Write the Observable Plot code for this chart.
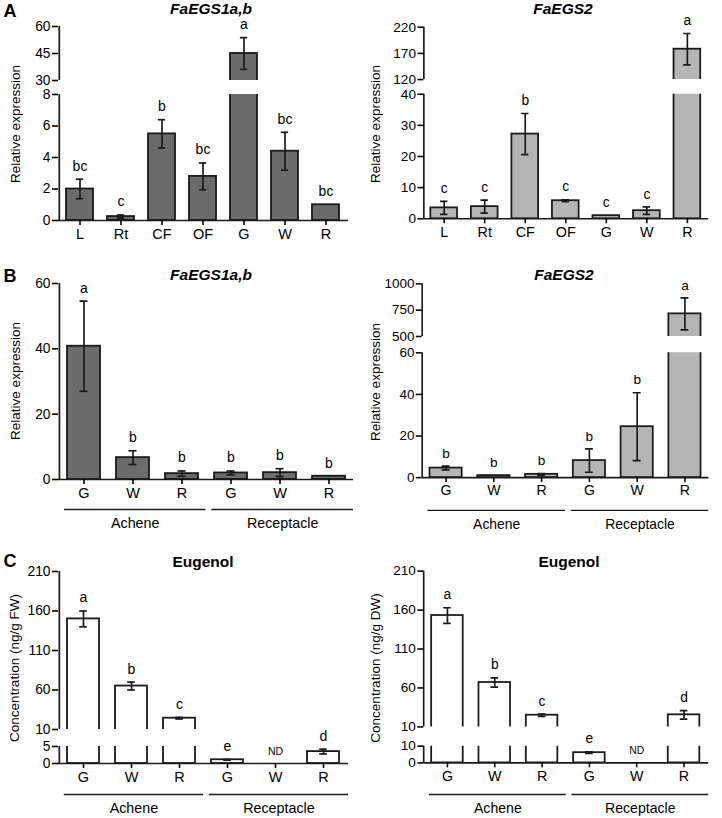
<!DOCTYPE html>
<html>
<head>
<meta charset="utf-8">
<script src="https://cdn.jsdelivr.net/npm/d3@7"></script>
<script src="https://cdn.jsdelivr.net/npm/@observablehq/plot@0.6"></script>
<style>
  html, body { margin: 0; padding: 0; background: #fff; }
  #root { position: relative; width: 722px; height: 818px; overflow: hidden; font-family: "Liberation Sans", Arial, Helvetica, sans-serif; color: #000; }
  .abs { position: absolute; white-space: nowrap; line-height: 1; }
  .seg svg { overflow: visible; }
</style>
</head>
<body>
<div id="root"></div>
<script>
// ---------------- data ----------------
const tissues = ["L", "Rt", "CF", "OF", "G", "W", "R"];
const stageKeys = ["A-G", "A-W", "A-R", "R-G", "R-W", "R-R"];
const stageLabels = ["G", "W", "R", "G", "W", "R"];
const groupNames = ["Achene", "Receptacle"];
const groupStart = [0, 3];
const groupEnd = [3, 6];

// A: tissues
const aEgs1Mean = [2.0, 0.25, 5.5, 2.8, 45, 4.4, 1.0];
const aEgs1Err  = [0.62, 0.1, 0.9, 0.85, 8.8, 1.2, 0];
const aEgs1Let  = ["bc", "c", "b", "bc", "a", "bc", "bc"];
const aEgs2Mean = [3.5, 3.9, 27.2, 5.8, 1.0, 2.6, 178];
const aEgs2Err  = [2.1, 2.1, 6.6, 0.3, 0, 1.2, 30];
const aEgs2Let  = ["c", "c", "b", "c", "c", "c", "a"];
// B: fruit parts / stages
const bEgs1Mean = [40.8, 6.7, 1.8, 2.0, 2.1, 1.0];
const bEgs1Err  = [13.8, 2.1, 0.8, 0.6, 1.2, 0];
const bEgs1Let  = ["a", "b", "b", "b", "b", "b"];
const bEgs2Mean = [4.6, 1.0, 1.6, 8.2, 24.5, 715];
const bEgs2Err  = [0.9, 0, 0.4, 5.6, 16.3, 152];
const bEgs2Let  = ["b", "b", "b", "b", "b", "a"];
// C: eugenol
const cFwMean = [150, 65, 24.3, 1.1, null, 3.5];
const cFwErr  = [10, 5, 1, 0.1, 0, 0.7];
const cDwMean = [153, 67, 25, 6.1, null, 25.5];
const cDwErr  = [10, 6, 1.5, 0.5, 0, 5.5];
const cLet    = ["a", "b", "c", "e", "ND", "d"];

// ---------------- drawing ----------------
const S = 1.0;            // horizontal stretch of the figure
const FONT = '"Liberation Sans", Arial, Helvetica, sans-serif';
const DARK = "#6b6b6b", LIGHT = "#b5b5b5", WHITE = "#ffffff";
const INK = "#1a1a1a";
const TICKFS = 13.8, LETFS = 14;
const root = document.getElementById("root");

function place(el, left, top) {
  const d = document.createElement("div");
  d.className = "abs seg";
  d.style.left = left + "px";
  d.style.top = top + "px";
  d.style.transformOrigin = "0 0";
  d.style.transform = `scaleX(${S})`;
  d.appendChild(el);
  root.appendChild(d);
}

function label(text, cx, cy, css, rotate) {
  const d = document.createElement("div");
  d.className = "abs";
  d.textContent = text;
  d.style.left = cx + "px";
  d.style.top = cy + "px";
  Object.assign(d.style, css);
  d.style.transform = rotate
    ? `translate(-50%,-50%) scaleX(${S}) rotate(-90deg)`
    : `translate(-50%,-50%) scaleX(${S})`;
  root.appendChild(d);
}

function panel(cfg) {
  const {cats, labels, mean, err, letters, fill, x0, x1, segs} = cfg;
  const n = cats.length;
  const step = (x1 - x0) / n;
  const PI = 0.33;
  const bw = step * (1 - PI);
  const labelOf = Object.fromEntries(cats.map((c, i) => [c, labels[i]]));
  const rows = cats.map((c, i) => ({
    key: c, m: mean[i], e: err[i], t: letters[i],
    lo: mean[i] == null ? null : mean[i] - err[i],
    hi: mean[i] == null ? 0 : mean[i] + err[i]
  }));
  const bars = rows.filter(r => r.m != null);
  const errs = rows.filter(r => r.m != null && r.e > 0);
  const ML = 52, MR = 14, MT = 26;
  const pageW = ML + (x1 - x0) + MR;
  const capIns = (bw - 8) / 2 / S;

  segs.forEach((s, si) => {
    const last = si === segs.length - 1;
    const MB = last ? 34 : 4;
    const H = MT + (s.yBot - s.yTop) + MB;
    const [d0, d1] = s.domain;
    // letters belong to the top-most segment whose lower bound they exceed
    const owner = v => {
      for (let k = 0; k < segs.length; k++) if (v >= segs[k].domain[0]) return k;
      return segs.length - 1;
    };
    const lets = rows.filter(r => owner(r.hi) === si);
    const marks = [
      Plot.barY(bars, {x: "key", y1: () => 0, y2: "m", fill, stroke: INK, strokeWidth: 1.8, clip: true}),
      Plot.ruleX(errs, {x: "key", y1: "lo", y2: "hi", stroke: INK, strokeWidth: 1.7 / S, clip: true}),
      Plot.tickY(errs, {x: "key", y: "lo", stroke: INK, strokeWidth: 1.7, insetLeft: capIns, insetRight: capIns, clip: true}),
      Plot.tickY(errs, {x: "key", y: "hi", stroke: INK, strokeWidth: 1.7, insetLeft: capIns, insetRight: capIns, clip: true}),
      Plot.ruleX([cats[0]], {x: d => d, y1: () => d0, y2: () => d1, dx: -(step / 2) / S, stroke: INK, strokeWidth: 1.7 / S}),
      Plot.axisY({ticks: s.ticks, tickSize: 6 / S, tickPadding: 2 / S, tickFormat: d => String(d),
                  fontSize: TICKFS, strokeWidth: 1.6, label: null, color: "#000"}),
      Plot.text(lets.filter(r => r.t !== "ND"), {x: "key", y: "hi", text: "t", dy: -13, fontSize: LETFS, fill: "#000"}),
      Plot.text(lets.filter(r => r.t === "ND"), {x: "key", y: "hi", text: "t", dy: -12, fontSize: 10.5, fill: "#000"})
    ];
    if (last) {
      marks.push(Plot.ruleY([d0], {stroke: INK, strokeWidth: 1.7}));
      marks.push(Plot.axisX({tickSize: 5, tickPadding: 3, tickFormat: k => labelOf[k], fontSize: 14.5,
                             strokeWidth: 1.6 / S, label: null, color: "#000"}));
    }
    const chart = Plot.plot({
      width: pageW / S,
      height: H,
      marginLeft: ML / S,
      marginRight: MR / S,
      marginTop: MT,
      marginBottom: MB,
      style: {background: "transparent", fontFamily: FONT, fontSize: TICKFS + "px", color: "#000", overflow: "visible"},
      x: {type: "band", domain: cats, paddingInner: PI, paddingOuter: PI / 2, align: 0.5, ...(last ? {} : {axis: null})},
      y: {domain: [d0, d1], label: null},
      marks
    });
    place(chart, x0 - ML, s.yTop - MT);
  });

  if (cfg.groupsY != null) {
    const gr = groupNames.map((g, i) => ({
      name: g, a: groupStart[i] + 0.12, b: groupEnd[i], mid: (groupStart[i] + 0.12 + groupEnd[i]) / 2
    }));
    const ann = Plot.plot({
      width: pageW / S, height: 34,
      marginLeft: ML / S, marginRight: MR / S, marginTop: 4, marginBottom: 30,
      style: {background: "transparent", fontFamily: FONT, color: "#000", overflow: "visible"},
      x: {type: "linear", domain: [0, n], axis: null},
      y: {domain: [0, 1], axis: null},
      marks: [
        Plot.ruleY(gr, {x1: "a", x2: "b", y: () => 0, stroke: INK, strokeWidth: 1.4}),
        Plot.text(gr, {x: "mid", y: () => 0, text: "name", dy: 14, fontSize: 14.3, fill: "#000"})
      ]
    });
    place(ann, x0 - ML, cfg.groupsY - 4);
  }

  label(cfg.title, cfg.titleX, cfg.titleY,
        {fontSize: "15.5px", fontWeight: "bold", fontStyle: cfg.italic ? "italic" : "normal"});
  label(cfg.ylabel, cfg.ylabelX, cfg.ylabelY, {fontSize: "13.5px"}, true);
}

panel({cats: tissues, labels: tissues, mean: aEgs1Mean, err: aEgs1Err, letters: aEgs1Let, fill: DARK,
  x0: 58, x1: 348,
  segs: [{domain: [30, 60], yTop: 26, yBot: 80, ticks: [30, 45, 60]},
         {domain: [0, 8], yTop: 94, yBot: 220, ticks: [0, 2, 4, 6, 8]}],
  title: "FaEGS1a,b", italic: true, titleX: 211, titleY: 9,
  ylabel: "Relative expression", ylabelX: 16, ylabelY: 124});

panel({cats: tissues, labels: tissues, mean: aEgs2Mean, err: aEgs2Err, letters: aEgs2Let, fill: LIGHT,
  x0: 424, x1: 712,
  segs: [{domain: [120, 220], yTop: 27, yBot: 80, ticks: [120, 170, 220]},
         {domain: [0, 40], yTop: 94, yBot: 220, ticks: [0, 10, 20, 30, 40]}],
  title: "FaEGS2", italic: true, titleX: 563, titleY: 9,
  ylabel: "Relative expression", ylabelX: 376, ylabelY: 124});

panel({cats: stageKeys, labels: stageLabels, mean: bEgs1Mean, err: bEgs1Err, letters: bEgs1Let, fill: DARK,
  x0: 58, x1: 353,
  segs: [{domain: [0, 60], yTop: 283, yBot: 479, ticks: [0, 20, 40, 60]}],
  groupsY: 509,
  title: "FaEGS1a,b", italic: true, titleX: 211, titleY: 275,
  ylabel: "Relative expression", ylabelX: 16, ylabelY: 381});

panel({cats: stageKeys, labels: stageLabels, mean: bEgs2Mean, err: bEgs2Err, letters: bEgs2Let, fill: LIGHT,
  x0: 423, x1: 717,
  segs: [{domain: [500, 1000], yTop: 284, yBot: 338, ticks: [500, 750, 1000]},
         {domain: [0, 60], yTop: 353, yBot: 481, ticks: [0, 20, 40, 60]}],
  groupsY: 510,
  title: "FaEGS2", italic: true, titleX: 564, titleY: 275,
  ylabel: "Relative expression", ylabelX: 376, ylabelY: 382});

panel({cats: stageKeys, labels: stageLabels, mean: cFwMean, err: cFwErr, letters: cLet, fill: WHITE,
  x0: 58, x1: 348,
  segs: [{domain: [10, 210], yTop: 571, yBot: 729, ticks: [10, 60, 110, 160, 210]},
         {domain: [0, 5], yTop: 746, yBot: 763, ticks: [0, 5]}],
  groupsY: 794,
  title: "Eugenol", italic: false, titleX: 203, titleY: 562,
  ylabel: "Concentration (ng/g FW)", ylabelX: 15, ylabelY: 668});

panel({cats: stageKeys, labels: stageLabels, mean: cDwMean, err: cDwErr, letters: cLet, fill: WHITE,
  x0: 424, x1: 713,
  segs: [{domain: [10, 210], yTop: 571, yBot: 729, ticks: [10, 60, 110, 160, 210]},
         {domain: [0, 10], yTop: 746, yBot: 763, ticks: [0, 10]}],
  groupsY: 794,
  title: "Eugenol", italic: false, titleX: 569, titleY: 562,
  ylabel: "Concentration (ng/g DW)", ylabelX: 376, ylabelY: 668});

// panel letters
label("A", 10, 11, {fontSize: "18px", fontWeight: "bold"});
label("B", 10, 276, {fontSize: "18px", fontWeight: "bold"});
label("C", 10, 561, {fontSize: "18px", fontWeight: "bold"});
</script>
</body>
</html>
